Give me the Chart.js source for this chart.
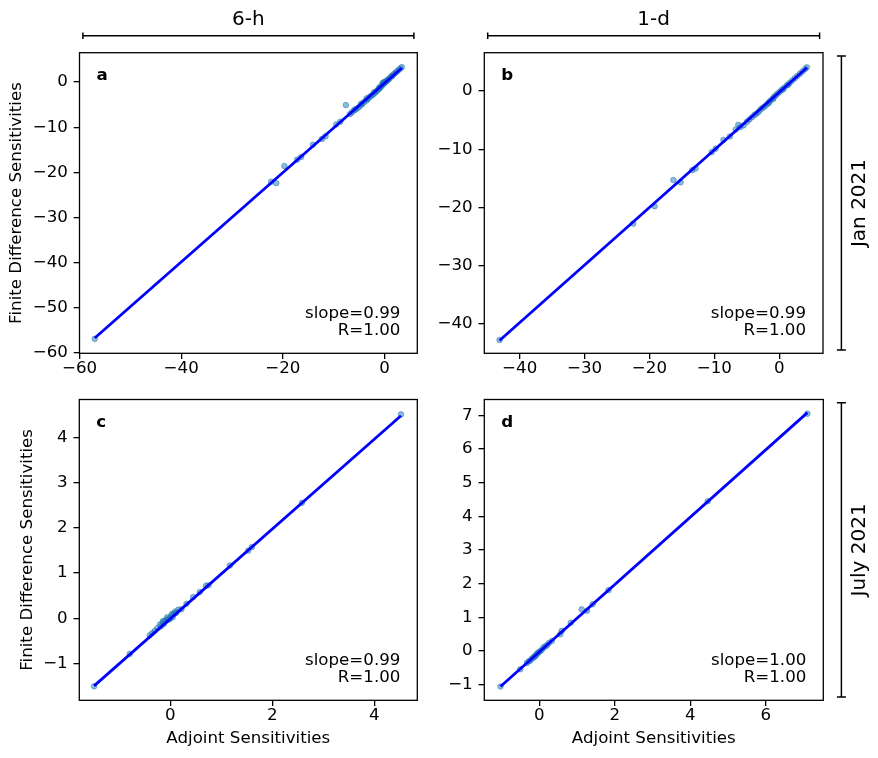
<!DOCTYPE html>
<html><head><meta charset="utf-8">
<script src="https://cdn.jsdelivr.net/npm/chart.js@4"></script>
<style>
html,body{margin:0;padding:0;background:#fff;}
#fig{position:relative;width:878px;height:758px;overflow:hidden;}
.panel{position:absolute;left:0;top:0;width:878px;height:758px;}
#deco{position:absolute;left:0;top:0;}
</style></head><body>
<div id="fig">
<div class="panel"><canvas id="ca"></canvas></div>
<div class="panel"><canvas id="cb"></canvas></div>
<div class="panel"><canvas id="cc"></canvas></div>
<div class="panel"><canvas id="cd"></canvas></div>
<svg id="deco" width="878" height="758" xmlns="http://www.w3.org/2000/svg"></svg>
</div>
<script>
// ---------------- data ----------------
const colHeaders = ['6-h', '1-d'];
const rowHeaders = ['Jan 2021', 'July 2021'];
const panelLetters = ['a', 'b', 'c', 'd'];
const slopeLabels = ['0.99', '0.99', '0.99', '1.00'];
const rLabels = ['1.00', '1.00', '1.00', '1.00'];
const xTitle = 'Adjoint Sensitivities';
const yTitle = 'Finite Difference Sensitivities';

// a: Jan 2021, 6-h
const janSixH_adj = [-57.0,-22.3,-21.3,-19.7,-17.2,-16.4,-14.1,-12.3,-11.6,-9.5,-8.7,-7.6,-6.8,-6.4,-6.0,-5.6,-5.2,-4.8,-4.4,-4.0,-3.6,-3.3,-3.0,-2.7,-2.4,-2.1,-1.8,-1.5,-1.3,-1.1,-0.9,-0.7,-0.5,-0.4,-0.3,-0.2,-0.1,0.0,0.1,0.3,0.5,0.8,1.0,1.3,1.6,1.9,2.2,2.5,2.8,3.1,3.4,-3.5,-2.0,-1.0,0.6,1.5,-4.6,-5.8];
const janSixH_fd  = [-56.9,-22.1,-22.4,-18.6,-17.2,-16.6,-13.9,-12.6,-12.0,-9.4,-8.8,-5.1,-7.1,-6.7,-6.3,-6.0,-5.7,-5.3,-4.9,-4.4,-4.1,-3.8,-3.4,-3.1,-2.9,-2.6,-2.3,-2.0,-1.7,-1.5,-1.3,-1.0,-0.8,-0.3,-0.5,-0.1,-0.3,0.05,-0.1,0.1,0.35,0.6,0.85,1.2,1.5,1.8,2.1,2.4,2.7,3.0,3.3,-3.6,-2.2,-1.2,0.4,1.3,-4.8,-6.1];
const janSixH_fitX = [-57.0, 3.4];
const janSixH_fitY = [-56.7, 3.1];

// b: Jan 2021, 1-d
const janOneD_adj = [-43.1,-22.5,-19.2,-16.3,-15.2,-13.4,-12.9,-10.4,-9.8,-8.6,-7.6,-6.7,-6.3,-6.0,-5.5,-5.0,-4.6,-4.2,-3.8,-3.5,-3.2,-2.9,-2.6,-2.3,-2.0,-1.7,-1.4,-1.1,-0.8,-0.5,-0.2,0.1,0.4,0.8,1.2,1.6,2.0,2.4,2.8,3.2,3.6,4.0,4.26,-1.6,-0.9,0.6,1.4];
const janOneD_fd  = [-42.8,-22.8,-19.8,-15.3,-15.7,-13.6,-13.3,-10.5,-9.9,-8.4,-7.8,-6.6,-5.8,-6.2,-5.9,-5.3,-4.9,-4.5,-4.1,-3.9,-3.6,-3.2,-2.9,-2.7,-2.4,-2.1,-1.7,-1.4,-1.0,-0.7,-0.4,-0.1,0.2,0.6,1.0,1.4,1.8,2.2,2.6,3.0,3.4,3.8,4.08,-2.0,-1.3,0.3,1.1];
const janOneD_fitX = [-43.1, 4.26];
const janOneD_fitY = [-42.9, 4.0];

// c: July 2021, 6-h
const julSixH_adj = [-1.49,-0.79,-0.40,-0.35,-0.30,-0.25,-0.20,-0.18,-0.15,-0.12,-0.10,-0.08,-0.05,-0.02,0.00,0.02,0.05,0.08,0.12,0.16,0.22,0.32,0.45,0.58,0.70,0.75,1.17,1.53,1.60,2.58,4.52,-0.06,0.04,-0.14,0.10];
const julSixH_fd  = [-1.51,-0.79,-0.38,-0.33,-0.28,-0.22,-0.14,-0.18,-0.10,-0.12,-0.06,-0.05,-0.02,-0.03,0.00,0.06,0.02,0.10,0.12,0.19,0.20,0.32,0.47,0.58,0.72,0.73,1.17,1.50,1.58,2.56,4.52,0.02,0.10,-0.06,0.15];
const julSixH_fitX = [-1.49, 4.52];
const julSixH_fitY = [-1.50, 4.49];

// d: July 2021, 1-d
const julOneD_adj = [-1.03,-0.51,-0.33,-0.28,-0.24,-0.20,-0.16,-0.13,-0.10,-0.08,-0.05,-0.02,0.02,0.06,0.10,0.15,0.20,0.25,0.33,0.55,0.59,0.83,1.12,1.26,1.41,1.83,4.46,7.10];
const julOneD_fd  = [-1.05,-0.54,-0.35,-0.30,-0.28,-0.22,-0.20,-0.16,-0.14,-0.10,-0.06,-0.04,0.00,0.03,0.10,0.14,0.17,0.24,0.30,0.50,0.60,0.84,1.24,1.20,1.39,1.81,4.45,7.05];
const julOneD_fitX = [-1.03, 7.10];
const julOneD_fitY = [-1.05, 7.08];

// tick values and axis ranges
const aXTicks = [-60, -40, -20, 0];
const aYTicks = [-60, -50, -40, -30, -20, -10, 0];
const bXTicks = [-40, -30, -20, -10, 0];
const bYTicks = [-40, -30, -20, -10, 0];
const cXTicks = [0, 2, 4];
const cYTicks = [-1, 0, 1, 2, 3, 4];
const dXTicks = [0, 2, 4, 6];
const dYTicks = [-1, 0, 1, 2, 3, 4, 5, 6, 7];
const aXRange = [-60.0, 6.45], aYRange = [-60.1, 6.5];
const bXRange = [-45.45, 6.75], bYRange = [-45.1, 6.6];
const cXRange = [-1.78, 4.84], cYRange = [-1.82, 4.85];
const dXRange = [-1.46, 7.52], dYRange = [-1.46, 7.47];

// ---------------- drawing ----------------
const FS = 16.67;
const FONT = '"DejaVu Sans", sans-serif';
Chart.defaults.font.family = FONT;
Chart.defaults.font.size = FS;
Chart.defaults.color = '#000';

function fmt(v) { return v < 0 ? '\u2212' + String(Math.abs(v)) : String(v); }

const decoPlugin = {
  id: 'panelDeco',
  afterDraw(chart, args, o) {
    const {ctx, chartArea: a} = chart;
    const w = a.right - a.left;
    ctx.save();
    ctx.strokeStyle = '#000';
    ctx.lineWidth = 1.3;
    ctx.strokeRect(a.left, a.top, w, a.bottom - a.top);
    ctx.fillStyle = '#000';
    ctx.textBaseline = 'alphabetic';
    ctx.font = 'bold ' + FS + 'px ' + FONT;
    ctx.textAlign = 'left';
    ctx.fillText(o.letter, a.left + 0.05 * w, a.top + 27.5);
    ctx.font = FS + 'px ' + FONT;
    ctx.textAlign = 'right';
    const xr = a.left + 0.95 * w;
    ctx.fillText('slope=' + o.slope, xr, a.bottom - 35);
    ctx.fillText('R=' + o.r, xr, a.bottom - 18.5);
    ctx.restore();
  }
};

function axis(range, ticks, sizeFn, titleText, isX) {
  return {
    type: 'linear',
    position: isX ? 'bottom' : 'left',
    min: range[0], max: range[1],
    afterBuildTicks: s => { s.ticks = ticks.map(v => ({value: v})); },
    afterFit: sizeFn,
    ticks: { callback: v => fmt(v), autoSkip: false, maxRotation: 0, padding: isX ? 0 : 5.8, font: {size: FS} },
    grid: { drawOnChartArea: false, drawTicks: true, tickLength: 5.8, color: '#000', lineWidth: 1.3 },
    border: { display: false },
    title: { display: !!titleText, text: titleText || '', padding: 0, font: {size: FS}, color: '#000' }
  };
}

function makePanel(id, p) {
  const pts = p.adj.map((x, i) => ({x: x, y: p.fd[i]}));
  const fit = p.fitX.map((x, i) => ({x: x, y: p.fitY[i]}));
  return new Chart(document.getElementById(id), {
    type: 'scatter',
    data: { datasets: [
      { data: fit, showLine: true, borderColor: '#0000ff', borderWidth: 2.8, pointRadius: 0, order: 0 },
      { data: pts, backgroundColor: 'rgba(31,119,180,0.5)', borderColor: 'rgba(31,119,180,0.5)', borderWidth: 1, pointRadius: 2.8, order: 1 }
    ]},
    options: {
      responsive: true, maintainAspectRatio: false, animation: false, events: [],
      layout: { padding: p.pad },
      plugins: { legend: {display: false}, tooltip: {enabled: false},
        panelDeco: { letter: p.letter, slope: p.slope, r: p.r } },
      scales: {
        x: axis(p.xRange, p.xTicks, s => { s.height = p.xH; }, p.xTitle, true),
        y: axis(p.yRange, p.yTicks, s => { s.width = p.yW; }, p.yTitle, false)
      }
    },
    plugins: [decoPlugin]
  });
}

const charts = [
  makePanel('ca', { adj: janSixH_adj, fd: janSixH_fd, fitX: janSixH_fitX, fitY: janSixH_fitY,
    xRange: aXRange, yRange: aYRange, xTicks: aXTicks, yTicks: aYTicks,
    letter: panelLetters[0], slope: slopeLabels[0], r: rLabels[0],
    yTitle: yTitle, xTitle: null, yW: 72.6, xH: 30,
    pad: {left: 6.9, top: 52.7, right: 878 - 417.3, bottom: 758 - 353.3 - 30} }),
  makePanel('cb', { adj: janOneD_adj, fd: janOneD_fd, fitX: janOneD_fitX, fitY: janOneD_fitY,
    xRange: bXRange, yRange: bYRange, xTicks: bXTicks, yTicks: bYTicks,
    letter: panelLetters[1], slope: slopeLabels[1], r: rLabels[1],
    yTitle: null, xTitle: null, yW: 50, xH: 30,
    pad: {left: 484.3 - 50, top: 52.7, right: 878 - 823, bottom: 758 - 353.3 - 30} }),
  makePanel('cc', { adj: julSixH_adj, fd: julSixH_fd, fitX: julSixH_fitX, fitY: julSixH_fitY,
    xRange: cXRange, yRange: cYRange, xTicks: cXTicks, yTicks: cYTicks,
    letter: panelLetters[2], slope: slopeLabels[2], r: rLabels[2],
    yTitle: yTitle, xTitle: xTitle, yW: 61.8, xH: 48.2,
    pad: {left: 17.5, top: 399.5, right: 878 - 417.3, bottom: 758 - 700.3 - 48.2} }),
  makePanel('cd', { adj: julOneD_adj, fd: julOneD_fd, fitX: julOneD_fitX, fitY: julOneD_fitY,
    xRange: dXRange, yRange: dYRange, xTicks: dXTicks, yTicks: dYTicks,
    letter: panelLetters[3], slope: slopeLabels[3], r: rLabels[3],
    yTitle: null, xTitle: xTitle, yW: 50, xH: 48.2,
    pad: {left: 484.3 - 50, top: 399.5, right: 878 - 823.3, bottom: 758 - 700.3 - 48.2} })
];

// column / row headers with brackets
(function () {
  const svg = document.getElementById('deco');
  let s = '';
  const st = 'stroke="#000" stroke-width="1.5" fill="none"';
  [0, 1].forEach(c => {
    const a = charts[c].chartArea;
    const x1 = a.left + 3.4, x2 = a.right - 3.4, y = 35.7;
    s += `<path d="M${x1},${y}H${x2}M${x1},${y - 3.2}V${y + 3.2}M${x2},${y - 3.2}V${y + 3.2}" ${st}/>`;
    s += `<text x="${(a.left + a.right) / 2}" y="25" text-anchor="middle" font-family='"DejaVu Sans", sans-serif' font-size="20" fill="#000">${colHeaders[c]}</text>`;
  });
  [0, 2].forEach((c, r) => {
    const a = charts[c + 1].chartArea;
    const y1 = a.top + 3.3, y2 = a.bottom - 3.3, x = 841.4;
    s += `<path d="M${x},${y1}V${y2}M${x - 4.5},${y1}H${x + 4.5}M${x - 4.5},${y2}H${x + 4.5}" ${st}/>`;
    const cy = (a.top + a.bottom) / 2;
    s += `<text transform="translate(864.5,${cy}) rotate(-90)" text-anchor="middle" font-family='"DejaVu Sans", sans-serif' font-size="20" fill="#000">${rowHeaders[r]}</text>`;
  });
  svg.innerHTML = s;
})();
</script>
</body></html>
